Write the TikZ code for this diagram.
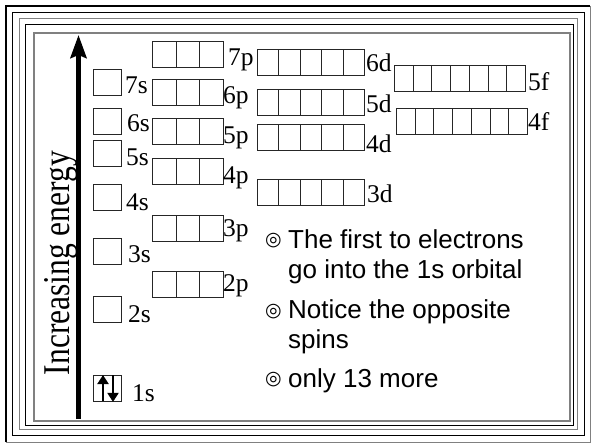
\documentclass[tikz,border=0pt]{standalone}
\usepackage{fontspec}
\setmainfont{Liberation Serif}
\setsansfont{Liberation Sans}
\newfontfamily\symfont{DejaVu Sans}
\usetikzlibrary{positioning, arrows.meta}

\begin{document}
\begin{tikzpicture}[x=1pt, y=-1pt,
    cell/.style={rectangle, draw=black!85, line width=0.9pt, inner sep=0pt, anchor=north west,
        minimum height=26pt},
    scell/.style={cell, minimum width=28pt},
    pcell/.style={cell, minimum width=23.5pt},
    dcell/.style={cell, minimum width=21.4pt},
    fcell/.style={cell, minimum width=18.7pt},
    lbl/.style={anchor=base west, inner sep=0pt, font=\fontsize{25.5}{28}\selectfont},
    note/.style={anchor=base west, inner sep=0pt, align=left, font=\sffamily\fontsize{26}{30}\selectfont},
    bul/.style={inner sep=0pt, font=\symfont\fontsize{19}{19}\selectfont},
    energy/.style={-{Stealth[length=23pt, width=16pt, inset=3pt]}, line width=4.5pt},
    spin/.style={-{Triangle[length=9pt, width=11pt]}, line width=2pt}]
\useasboundingbox (0,0) rectangle (592,444);
% slide frame
\fill[white] (0,0) rectangle (592,444);
\draw[gray, line width=1pt] (590,6) -- (590,442) -- (6,442);
\draw[line width=2.4pt] (6,442) -- (6,6) -- (590,6);
\draw[line width=0.8pt] (12,12) rectangle (584,435);
\draw[gray, line width=1pt] (19,19) rectangle (577,429);
\draw[line width=0.8pt] (25,24) rectangle (573,425);
\draw[gray, line width=1.4pt] (34,33) rectangle (570,421);
% energy axis
\coordinate (ebot) at (78.5,419);
\coordinate (etop) at (78.5,35);
\draw[energy] (ebot) -- (etop);
\node[rotate=90, yscale=1.2, anchor=base, inner sep=0pt, font=\fontsize{31.5}{33}\selectfont] (elabel) at (69.5,263) {Increasing energy};
% s orbitals
\foreach \n/\y in {7/69, 6/108, 5/140, 4/184, 3/238, 2/296, 1/375}
    \node[scell] (s\n) at (92.5,\y) {};
\node[lbl] (ls7) at (125,94) {7s};
\node[lbl] (ls6) at (127,131) {6s};
\node[lbl] (ls5) at (126,165) {5s};
\node[lbl] (ls4) at (126,210) {4s};
\node[lbl] (ls3) at (128,262) {3s};
\node[lbl] (ls2) at (128,322) {2s};
\node[lbl] (ls1) at (132,401) {1s};
% p orbitals
\foreach \n/\y in {7/41, 6/79, 5/118, 4/158, 3/215, 2/271}
    \foreach \i in {0,1,2}
        \node[pcell] (p\n-\i) at (152+\i*23.5,\y) {};
\node[lbl] (lp7) at (228,66) {7p};
\node[lbl] (lp6) at (223,103) {6p};
\node[lbl] (lp5) at (223,143) {5p};
\node[lbl] (lp4) at (223,183) {4p};
\node[lbl] (lp3) at (223,236) {3p};
\node[lbl] (lp2) at (223,291) {2p};
% d orbitals
\foreach \n/\y in {6/49, 5/89, 4/124, 3/179}
    \foreach \i in {0,...,4}
        \node[dcell] (d\n-\i) at (257+\i*21.4,\y) {};
\node[lbl] (ld6) at (366,72) {6d};
\node[lbl] (ld5) at (366,113) {5d};
\node[lbl] (ld4) at (366,152) {4d};
\node[lbl] (ld3) at (367,202) {3d};
% f orbitals
\foreach \n/\x/\y in {5/394/65, 4/396/108}
    \foreach \i in {0,...,6}
        \node[fcell] (f\n-\i) at (\x+\i*18.7,\y) {};
\node[lbl] (lf5) at (528,91) {5f};
\node[lbl] (lf4) at (528,130) {4f};
% the two 1s electrons
\draw[spin] ([xshift=10.5pt, yshift=1pt]s1.south west) -- ([xshift=10.5pt]s1.north west);
\draw[spin] ([xshift=20.5pt]s1.north west) -- ([xshift=20.5pt]s1.south west);
% notes
\node[bul] (m1) at (273.5,241) {◎};
\node[bul] (m2) at (273.5,312) {◎};
\node[bul] (m3) at (273.5,380) {◎};
\node[note] (n1) at (288,278) {The first to electrons\\go into the 1s orbital};
\node[note] (n2) at (288,348) {Notice the opposite\\spins};
\node[note] (n3) at (288,387) {only 13 more};
\end{tikzpicture}
\end{document}
